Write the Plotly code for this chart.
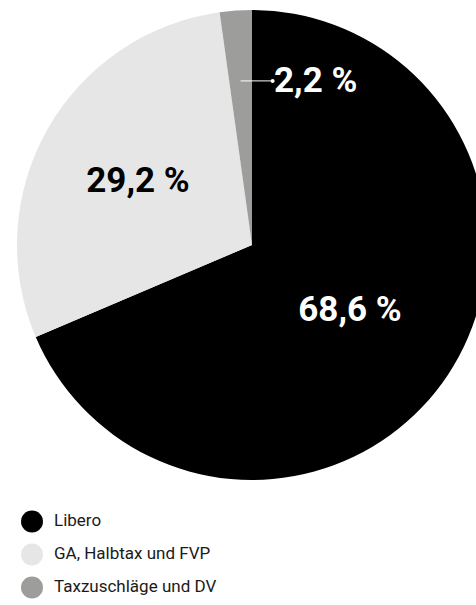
import math
import plotly.graph_objects as go

# ---- data ----
categories = ["Libero", "GA, Halbtax und FVP", "Taxzuschläge und DV"]
values = [68.6, 29.2, 2.2]
colors = ["#000000", "#e6e6e6", "#9d9d9c"]
label_colors = ["#ffffff", "#000000", "#ffffff"]

W, H = 490, 605
# pie geometry in px (top-left origin)
PIE_L, PIE_R, PIE_T, PIE_B = 17, 487, 10, 480
R = (PIE_R - PIE_L) / 2
CX, CY = (PIE_L + PIE_R) / 2, (PIE_T + PIE_B) / 2

BIG_FONT = "Roboto, sans-serif"

fig = go.Figure()

texttemplates = ["%{value:.1f} %", "%{value:.1f} %", ""]
fig.add_trace(go.Pie(
    labels=categories, values=values, sort=False, direction="clockwise", rotation=0,
    marker=dict(colors=colors, line=dict(width=0)),
    texttemplate=texttemplates, textposition="inside", insidetextorientation="horizontal",
    insidetextfont=dict(family=BIG_FONT, size=35, color=label_colors, weight="bold"),
    showlegend=False, hoverinfo="label+percent",
    domain=dict(x=[PIE_L / W, PIE_R / W], y=[1 - PIE_B / H, 1 - PIE_T / H]),
))

# callout for the small slice (derived from its share)
total = sum(values)
start = sum(values[:2]) / total * 360
mid = math.radians(start + values[2] / total * 180)
px = CX + 0.7 * R * math.sin(mid)
py = CY - 0.7 * R * math.cos(mid)
fig.add_annotation(
    x=px / W, y=1 - py / H, xref="paper", yref="paper",
    text=("%.1f" % values[2]).replace(".", ",") + " %",
    showarrow=True, arrowhead=6, arrowside="start", startarrowhead=6, arrowsize=1.5, arrowwidth=1,
    arrowcolor="#ffffff", ax=32, ay=0, xanchor="left", yanchor="middle",
    font=dict(family=BIG_FONT, size=35, color="#ffffff", weight="bold"),
    borderpad=0,
)

# legend drawn as scatter on its own axes
ys = list(range(len(categories)))
fig.add_trace(go.Scatter(
    x=[0] * len(categories), y=ys, mode="markers",
    marker=dict(size=22, color=colors, line=dict(width=0)),
    showlegend=False, hoverinfo="skip",
))
fig.add_trace(go.Scatter(
    x=[22] * len(categories), y=ys, mode="text", text=categories,
    textposition="middle right",
    textfont=dict(family="Roboto, sans-serif", size=17, color="#1a1a1a"),
    showlegend=False, hoverinfo="skip",
))

fig.update_xaxes(visible=False, range=[-32, W - 32], domain=[0, 1], fixedrange=True)
fig.update_yaxes(visible=False, range=[2.53, -0.5], domain=[0, 100 / H], fixedrange=True)

fig.update_layout(
    width=W, height=H, margin=dict(l=0, r=0, t=0, b=0),
    paper_bgcolor="white", plot_bgcolor="rgba(0,0,0,0)",
    separators=", ",
)

fig.write_html(
    "out.html",
    config={"displayModeBar": False},
    post_script="document.body.style.margin='0';document.body.style.overflow='hidden';",
)
